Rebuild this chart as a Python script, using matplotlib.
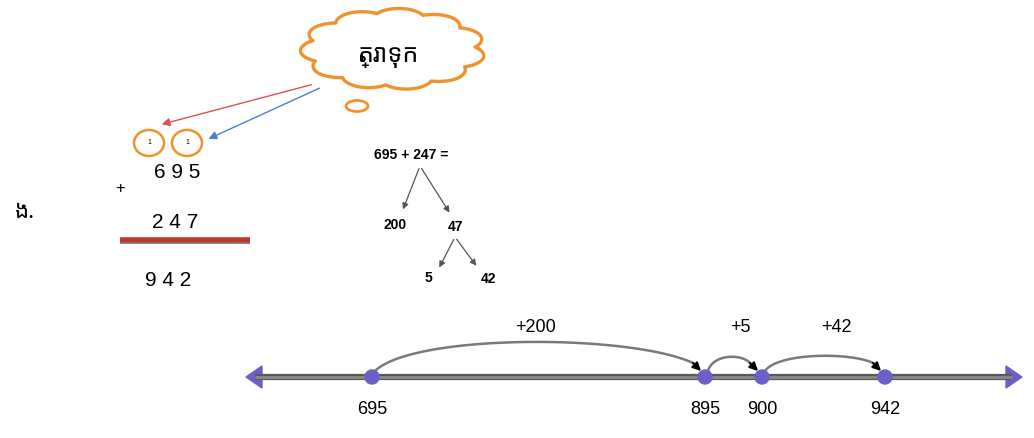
import numpy as np
import matplotlib.pyplot as plt
from matplotlib.patches import Ellipse, Polygon, Circle

# data
addends = [695, 247]
total = 942
carries = [1, 1]
split_first = [200, 47]
split_second = [5, 42]
stops = [695, 895, 900, 942]
jumps = [200, 5, 42]
cloud_text = 'ត្រាទុក'
item_label = 'ង.'

# layout (pixels)
stop_x = [372, 705, 762, 885]
line_y = 377

KHMER = ['Noto Sans Khmer', 'Khmer OS', 'Noto Serif Khmer', 'DejaVu Sans']
plt.rcParams['font.family'] = ['Liberation Sans', 'DejaVu Sans']

fig = plt.figure(figsize=(10.34, 4.38), dpi=100)
ax = fig.add_axes([0, 0, 1, 1])
ax.set_xlim(0, 1034)
ax.set_ylim(438, 0)
ax.axis('off')

orange = '#f0922e'

# cloud
t = np.linspace(0, 2 * np.pi, 800)
r = 1 + 0.13 * np.abs(np.sin(5.5 * t + 0.3)) ** 0.8
cx, cy, a, b = 393, 49, 82, 36
ax.plot(cx + a * r * np.cos(t), cy + b * r * np.sin(t), color=orange, lw=2.4)
ax.add_patch(Ellipse((357, 106), 22, 11, fill=False, ec=orange, lw=2))
ax.text(cx - 5, 56, cloud_text, fontsize=18, ha='center', va='center', family=KHMER)

# arrows from cloud to carry circles
ax.annotate('', xy=(159, 125), xytext=(314, 84),
            arrowprops=dict(arrowstyle='-|>', color='#d9534f', lw=1, mutation_scale=12))
ax.annotate('', xy=(206, 140), xytext=(322, 87),
            arrowprops=dict(arrowstyle='-|>', color='#4a7fd0', lw=1, mutation_scale=12))

# carries
for i, c in enumerate(carries):
    x = 149 + 38 * i
    ax.add_patch(Ellipse((x, 143), 30, 26, fill=False, ec=orange, lw=1.8))
    ax.text(x, 143, str(c), fontsize=5, ha='center', va='center')

# column addition
ax.text(177, 172, ' '.join(str(addends[0])), fontsize=15, ha='center', va='center')
ax.text(120, 188, '+', fontsize=12, ha='center', va='center')
ax.text(175, 222, ' '.join(str(addends[1])), fontsize=15, ha='center', va='center')
ax.plot([120, 250], [240, 240], color='#c0392b', lw=4, solid_capstyle='butt')
ax.plot([120, 250], [242.5, 242.5], color='#707070', lw=1.2, solid_capstyle='butt')
ax.text(168, 280, ' '.join(str(total)), fontsize=15, ha='center', va='center')
ax.text(25, 212, item_label, fontsize=16, ha='center', va='center', family=KHMER)

# split tree
tree_kw = dict(arrowstyle='-|>', color='#555555', lw=0.9, mutation_scale=9)
fs = 10
ax.text(411, 155, f'{addends[0]} + {addends[1]} =', fontsize=fs, ha='center',
        va='center', fontweight='bold')
ax.annotate('', xy=(402, 212), xytext=(420, 166), arrowprops=tree_kw)
ax.annotate('', xy=(451, 215), xytext=(420, 166), arrowprops=tree_kw)
ax.text(395, 225, str(split_first[0]), fontsize=fs, ha='center', va='center', fontweight='bold')
ax.text(455, 227, str(split_first[1]), fontsize=fs, ha='center', va='center', fontweight='bold')
ax.annotate('', xy=(438, 270), xytext=(455, 237), arrowprops=tree_kw)
ax.annotate('', xy=(478, 268), xytext=(455, 237), arrowprops=tree_kw)
ax.text(428, 278, str(split_second[0]), fontsize=fs, ha='center', va='center', fontweight='bold')
ax.text(488, 279, str(split_second[1]), fontsize=fs, ha='center', va='center', fontweight='bold')

# number line
purple = '#6c5fc7'
ax.plot([255, 1012], [line_y, line_y], color='#5a5a5a', lw=4.5, solid_capstyle='butt')
ax.plot([255, 1012], [line_y, line_y], color='#8a8a8a', lw=2, solid_capstyle='butt')
ax.add_patch(Polygon([[246, line_y], [262, line_y - 11], [262, line_y + 11]], color=purple))
ax.add_patch(Polygon([[1022, line_y], [1006, line_y - 11], [1006, line_y + 11]], color=purple))
for v, x in zip(stops, stop_x):
    ax.add_patch(Circle((x, line_y), 7, color=purple, zorder=3))
    ax.text(x, 410, str(v), fontsize=13, ha='center', va='center')

# jumps
s = np.linspace(0, 1, 120)[:, None]
peaks = [342, 357, 356]
label_x = [535, 740, 836]
for j, (x0, x1) in enumerate(zip(stop_x[:-1], stop_x[1:])):
    p0 = np.array([x0 + 3, line_y - 6])
    p3 = np.array([x1 - 12, line_y - 14])
    w = p3[0] - p0[0]
    py = (peaks[j] - 0.125 * (p0[1] + p3[1])) / 0.75
    c1 = np.array([p0[0] + 0.12 * w, py])
    c2 = np.array([p3[0] - 0.2 * w, py])
    curve = (1 - s) ** 3 * p0 + 3 * s * (1 - s) ** 2 * c1 + 3 * s ** 2 * (1 - s) * c2 + s ** 3 * p3
    ax.plot(curve[:, 0], curve[:, 1], color='#7a7a7a', lw=1.8)
    ax.annotate('', xy=(x1 - 2, line_y - 4), xytext=(x1 - 14, line_y - 16),
                arrowprops=dict(arrowstyle='-|>', color='black', lw=1.5, mutation_scale=12))
    ax.text(label_x[j], 327, f'+{jumps[j]}', fontsize=13, ha='center', va='center')

fig.savefig('out.png', dpi=100)
